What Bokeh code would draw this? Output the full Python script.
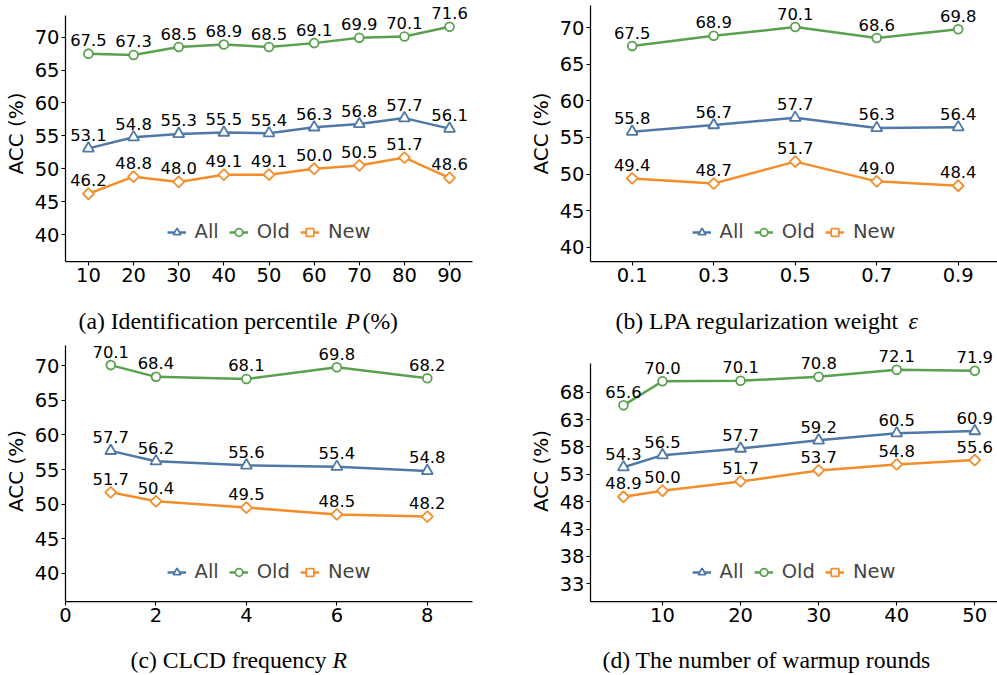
import numpy as np
from bokeh.plotting import figure
from bokeh.models import ColumnDataSource, LabelSet, Label, FixedTicker, Range1d
from bokeh.layouts import row, column
from bokeh.core.properties import value
from bokeh.embed import file_html
from bokeh.resources import INLINE

# ---------------- data ----------------
series_names = ["All", "Old", "New"]

a_x = [10, 20, 30, 40, 50, 60, 70, 80, 90]
a_all = [53.1, 54.8, 55.3, 55.5, 55.4, 56.3, 56.8, 57.7, 56.1]
a_old = [67.5, 67.3, 68.5, 68.9, 68.5, 69.1, 69.9, 70.1, 71.6]
a_new = [46.2, 48.8, 48.0, 49.1, 49.1, 50.0, 50.5, 51.7, 48.6]
a_xticks = [10, 20, 30, 40, 50, 60, 70, 80, 90]
a_yticks = [40, 45, 50, 55, 60, 65, 70]

b_x = [0.1, 0.3, 0.5, 0.7, 0.9]
b_all = [55.8, 56.7, 57.7, 56.3, 56.4]
b_old = [67.5, 68.9, 70.1, 68.6, 69.8]
b_new = [49.4, 48.7, 51.7, 49.0, 48.4]
b_xticks = [0.1, 0.3, 0.5, 0.7, 0.9]
b_yticks = [40, 45, 50, 55, 60, 65, 70]

c_x = [1, 2, 4, 6, 8]
c_all = [57.7, 56.2, 55.6, 55.4, 54.8]
c_old = [70.1, 68.4, 68.1, 69.8, 68.2]
c_new = [51.7, 50.4, 49.5, 48.5, 48.2]
c_xticks = [0, 2, 4, 6, 8]
c_yticks = [40, 45, 50, 55, 60, 65, 70]

d_x = [5, 10, 20, 30, 40, 50]
d_all = [54.3, 56.5, 57.7, 59.2, 60.5, 60.9]
d_old = [65.6, 70.0, 70.1, 70.8, 72.1, 71.9]
d_new = [48.9, 50.0, 51.7, 53.7, 54.8, 55.6]
d_xticks = [10, 20, 30, 40, 50]
d_yticks = [33, 38, 43, 48, 53, 58, 63, 68]

y_title = "ACC (%)"
captions = {
    "a": [("(a) Identification percentile", "normal"), ("P", "italic"), ("(%)", "normal")],
    "b": [("(b) LPA regularization weight", "normal"), ("\u03b5", "italic")],
    "c": [("(c) CLCD frequency", "normal"), ("R", "italic")],
    "d": [("(d) The number of warmup rounds", "normal")],
}

# ---------------- styles ----------------
COLORS = {"All": "#4e79a7", "Old": "#59a14f", "New": "#f28e2b"}
MARKERS = {"All": ("triangle", 11, 0.0), "Old": ("circle", 8.8, 0.0), "New": ("square", 7.8, np.pi / 4)}
SANS = "DejaVu Sans"
SERIF = "Liberation Serif"

LEFT_W, RIGHT_W = 498, 499
L_BORDERS = (64, 26)   # left/right borders of left column
R_BORDERS = (92, 0)    # left/right borders of right column


def make_panel(x, ys, xticks, yticks, xlim, ylim, ybounds, w, h, lr, tb):
    mbl, mbr = lr
    mbt, mbb = tb
    p = figure(width=w, height=h, x_range=Range1d(*xlim), y_range=Range1d(*ylim),
               output_backend="svg", toolbar_location=None,
               min_border_left=mbl, min_border_right=mbr, min_border_top=mbt, min_border_bottom=mbb)
    p.outline_line_color = None
    p.background_fill_color = "white"
    p.border_fill_color = "white"
    p.xgrid.visible = False
    p.ygrid.visible = False
    p.xaxis.ticker = FixedTicker(ticks=xticks)
    p.yaxis.ticker = FixedTicker(ticks=yticks)
    if ybounds is not None:
        p.yaxis.bounds = ybounds
    for ax in (p.xaxis[0], p.yaxis[0]):
        ax.axis_line_color = "black"
        ax.axis_line_width = 1.25
        ax.major_tick_line_color = "black"
        ax.major_tick_line_width = 1.1
        ax.major_tick_in = 0
        ax.major_tick_out = 4
        ax.minor_tick_line_color = None
        ax.major_label_text_font = SANS
        ax.major_label_text_font_size = "19.5px"
        ax.major_label_text_color = "black"
        ax.major_label_standoff = 2
    ya = p.yaxis[0]
    ya.axis_label = y_title
    ya.axis_label_text_font = SANS
    ya.axis_label_text_font_size = "20px"
    ya.axis_label_text_font_style = "normal"
    ya.axis_label_text_color = "black"
    ya.axis_label_standoff = 4

    for name, yv in zip(series_names, ys):
        col = COLORS[name]
        mk, sz, ang = MARKERS[name]
        src = ColumnDataSource(dict(x=x, y=yv, lbl=["%.1f" % v for v in yv]))
        p.line("x", "y", source=src, line_color=col, line_width=2.5, legend_label=name)
        p.scatter("x", "y", source=src, marker=mk, size=sz, angle=ang, fill_color="white",
                  line_color=col, line_width=1.8, legend_label=name)
        ls = LabelSet(x="x", y="y", text="lbl", source=src, text_align="center",
                      text_baseline="alphabetic", y_offset=7.5,
                      text_font=value(SANS), text_font_size="16.4px", text_color="black")
        p.add_layout(ls)

    lg = p.legend[0]
    lg.location = "bottom_center"
    lg.orientation = "horizontal"
    lg.border_line_alpha = 0
    lg.background_fill_alpha = 0
    lg.label_text_font = SANS
    lg.label_text_font_size = "19.5px"
    lg.glyph_width = 19
    lg.glyph_height = 20
    lg.label_standoff = 9
    lg.spacing = 10
    lg.margin = 8
    lg.padding = 10
    return p


def make_caption(parts, xs, mid_y, w, lr, top, bottom):
    # caption strip: its data coordinates equal page pixels
    mbl, mbr = lr
    x0 = 0 if w == LEFT_W else LEFT_W
    c = figure(width=w, height=bottom - top, x_range=Range1d(x0 + mbl, x0 + w - mbr),
               y_range=Range1d(bottom, top), output_backend="svg", toolbar_location=None,
               x_axis_location=None, y_axis_location=None,
               min_border_left=mbl, min_border_right=mbr, min_border_top=0, min_border_bottom=0)
    c.outline_line_color = None
    c.grid.visible = False
    for (txt, style), cx in zip(parts, xs):
        c.add_layout(Label(x=cx, y=mid_y, text=txt, text_align="left", text_baseline="middle",
                           text_font=SERIF, text_font_size="23.7px", text_font_style=style,
                           text_color="black"))
    return c


pa = make_panel(a_x, [a_all, a_old, a_new], a_xticks, a_yticks, (4.92, 95.08), (35.9, 74.82),
                (35.9, 73.3), LEFT_W, 295, L_BORDERS, (5, 34))
pb = make_panel(b_x, [b_all, b_old, b_new], b_xticks, b_yticks, (-0.0023, 0.9964), (38.04, 73.05),
                None, RIGHT_W, 295, R_BORDERS, (5, 34))
pc = make_panel(c_x, [c_all, c_old, c_new], c_xticks, c_yticks, (0, 9), (35.91, 73.66),
                (35.91, 72.94), LEFT_W, 300, L_BORDERS, (5, 34))
pd = make_panel(d_x, [d_all, d_old, d_new], d_xticks, d_yticks, (0.778, 52.91), (29.77, 77.44),
                (29.77, 73.19), RIGHT_W, 300, R_BORDERS, (5, 34))

ca = make_caption(captions["a"], [78, 345, 362], 320, LEFT_W, L_BORDERS, 295, 335)
cb = make_caption(captions["b"], [615, 908], 320, RIGHT_W, R_BORDERS, 295, 335)
cc = make_caption(captions["c"], [130, 332], 659, LEFT_W, L_BORDERS, 635, 674)
cd = make_caption(captions["d"], [602], 659, RIGHT_W, R_BORDERS, 635, 674)

layout = column(row(pa, pb), row(ca, cb), row(pc, pd), row(cc, cd))
open("out.html", "w").write(file_html(layout, INLINE))
